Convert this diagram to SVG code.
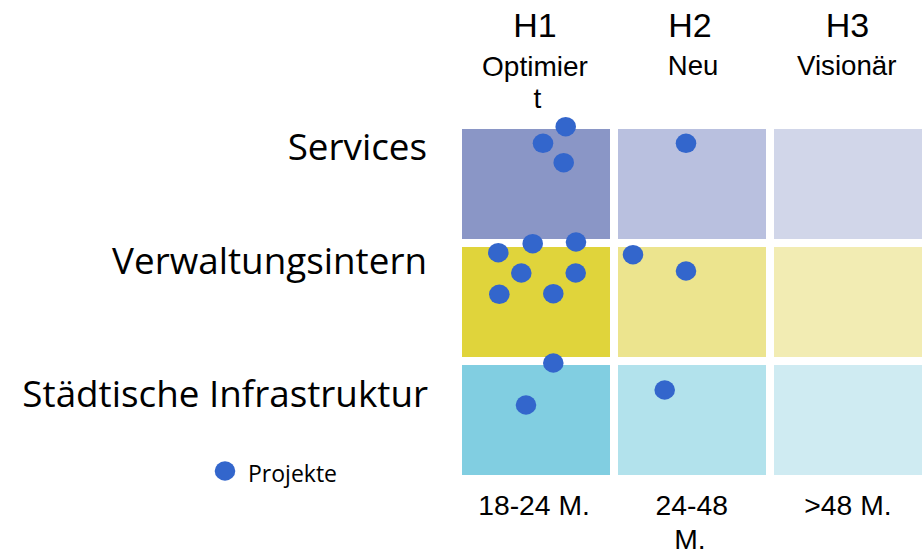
<svg xmlns="http://www.w3.org/2000/svg" width="922" height="555" viewBox="0 0 922 555">
<style>
.hd{font-family:"Liberation Sans",Arial,sans-serif;fill:#000;text-anchor:middle}
.rl{font-family:"Open Sans","Noto Sans",sans-serif;fill:#000;text-anchor:end;font-size:36.8px}
.dot{fill:#3366CC}
</style>
<rect width="922" height="555" fill="#fff"/>
<g id="cells">
<rect id="c11" x="462" y="129" width="148" height="110" fill="#8A96C6"/>
<rect id="c12" x="618" y="129" width="148" height="110" fill="#B9C0DF"/>
<rect id="c13" x="774" y="129" width="148" height="110" fill="#D1D6E9"/>
<rect id="c21" x="462" y="247" width="148" height="110" fill="#E0D43B"/>
<rect id="c22" x="618" y="247" width="148" height="110" fill="#ECE48E"/>
<rect id="c23" x="774" y="247" width="148" height="110" fill="#F2ECB3"/>
<rect id="c31" x="462" y="365" width="148" height="110" fill="#81CEE1"/>
<rect id="c32" x="618" y="365" width="148" height="110" fill="#B2E2EC"/>
<rect id="c33" x="774" y="365" width="148" height="110" fill="#CFEBF2"/>
</g>
<g id="headers">
<text class="hd" x="535" y="37" font-size="34">H1</text>
<text class="hd" x="690" y="37" font-size="34">H2</text>
<text class="hd" x="847.5" y="37" font-size="34">H3</text>
<text class="hd" x="535" y="76" font-size="28">Optimier</text>
<text class="hd" x="537.5" y="108" font-size="28">t</text>
<text class="hd" x="693" y="75" font-size="27.5">Neu</text>
<text class="hd" x="846.7" y="75" font-size="27.7">Visionär</text>
</g>
<g id="rows">
<text class="rl" x="427" y="160">Services</text>
<text class="rl" x="427" y="274">Verwaltungsintern</text>
<text class="rl" x="428" y="407">Städtische Infrastruktur</text>
</g>
<g id="footer">
<text class="hd" x="534" y="515" font-size="28.3">18-24 M.</text>
<text class="hd" x="691.7" y="515" font-size="28.3">24-48</text>
<text class="hd" x="690" y="549" font-size="28.3">M.</text>
<text class="hd" x="848" y="515" font-size="28.3">&gt;48 M.</text>
</g>
<g id="projects">
<ellipse class="dot" cx="565.7" cy="126.7" rx="10.3" ry="9.7"/>
<ellipse class="dot" cx="543" cy="143.3" rx="10.3" ry="9.7"/>
<ellipse class="dot" cx="563.7" cy="162.7" rx="10.3" ry="9.7"/>
<ellipse class="dot" cx="686" cy="143.3" rx="10.3" ry="9.7"/>
<ellipse class="dot" cx="498.3" cy="252.7" rx="10.3" ry="9.7"/>
<ellipse class="dot" cx="532.7" cy="243.7" rx="10.3" ry="9.7"/>
<ellipse class="dot" cx="576" cy="242" rx="10.3" ry="9.7"/>
<ellipse class="dot" cx="521.3" cy="273" rx="10.3" ry="9.7"/>
<ellipse class="dot" cx="575.7" cy="273" rx="10.3" ry="9.7"/>
<ellipse class="dot" cx="499.3" cy="294.3" rx="10.3" ry="9.7"/>
<ellipse class="dot" cx="553.3" cy="293.7" rx="10.3" ry="9.7"/>
<ellipse class="dot" cx="633" cy="254.7" rx="10.3" ry="9.7"/>
<ellipse class="dot" cx="686" cy="271" rx="10.3" ry="9.7"/>
<ellipse class="dot" cx="553.3" cy="363" rx="10.3" ry="9.7"/>
<ellipse class="dot" cx="526" cy="405" rx="10.3" ry="9.7"/>
<ellipse class="dot" cx="664.7" cy="390" rx="10.3" ry="9.7"/>
</g>
<g id="legend">
<ellipse class="dot" cx="225" cy="471" rx="10.3" ry="9.7"/>
<text x="248" y="482" font-family="Open Sans, Noto Sans, sans-serif" font-size="23" fill="#000">Projekte</text>
</g>
</svg>
